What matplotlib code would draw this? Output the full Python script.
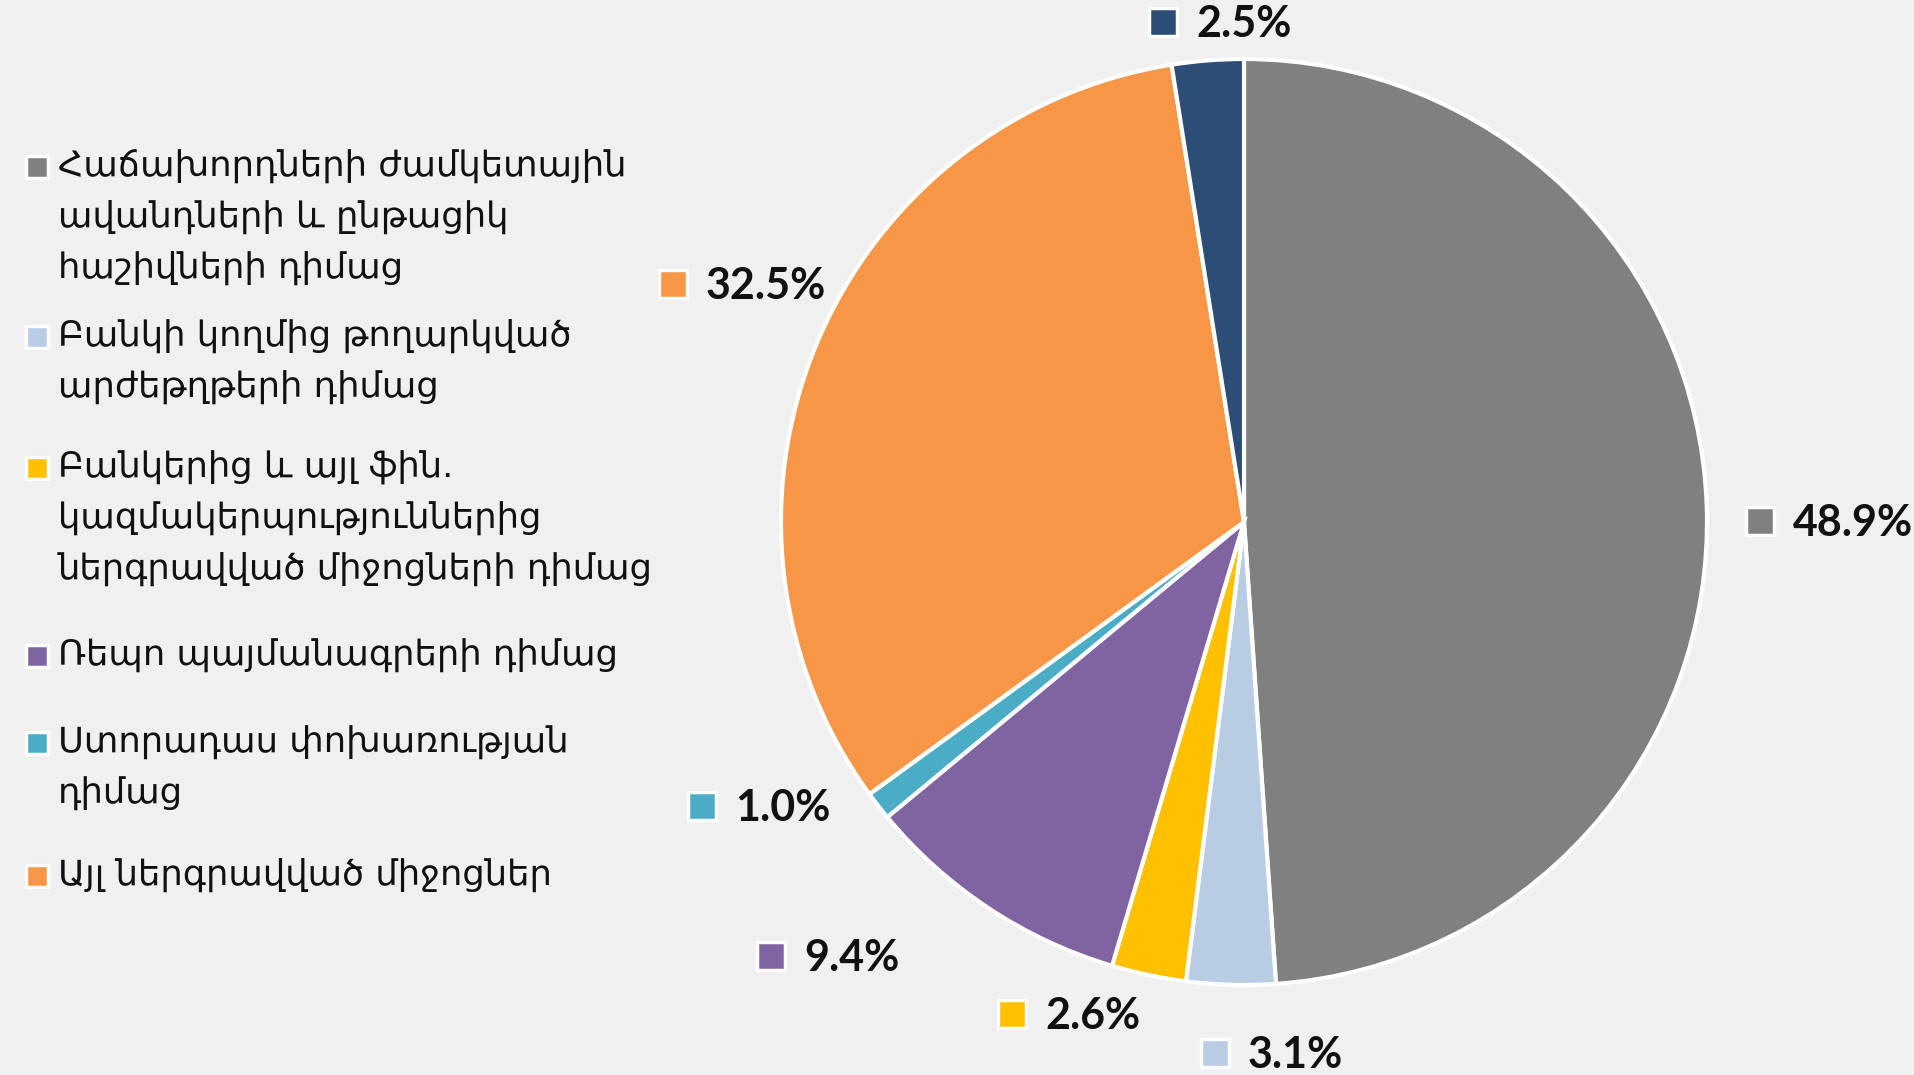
import matplotlib
matplotlib.use("Agg")
import matplotlib.pyplot as plt

# data (clockwise from 12 o'clock)
values = [48.9, 3.1, 2.6, 9.4, 1.0, 32.5, 2.5]
colors = ["#808080", "#B8CCE4", "#FFC000", "#8064A2", "#4BACC6", "#F79646", "#2C4D75"]
pct_labels = ["48.9%", "3.1%", "2.6%", "9.4%", "1.0%", "32.5%", "2.5%"]
legend_labels = [
    "Հաճախորդների ժամկետային\nավանդների և ընթացիկ\nհաշիվների դիմաց",
    "Բանկի կողմից թողարկված\nարժեթղթերի դիմաց",
    "Բանկերից և այլ ֆին.\nկազմակերպություններից\nներգրավված միջոցների դիմաց",
    "Ռեպո պայմանագրերի դիմաց",
    "Ստորադաս փոխառության\nդիմաց",
    "Այլ ներգրավված միջոցներ",
]

bg = "#EFF0EF"
W, H = 1914, 1075
fig = plt.figure(figsize=(W / 100, H / 100), dpi=100, facecolor=bg)

# pie axes: centre (1244, 522) px, radius 463 px
cx, cy, R = 1244, 522, 463
ax = fig.add_axes([(cx - R) / W, (H - cy - R) / H, 2 * R / W, 2 * R / H])
ax.set_facecolor(bg)
ax.pie(values, colors=colors, startangle=90, counterclock=False,
       wedgeprops=dict(edgecolor="white", linewidth=3))
ax.set_xlim(-1, 1)
ax.set_ylim(-1, 1)
ax.set_aspect("equal")
ax.axis("off")

# overlay in pixel coords for labels and legend
ov = fig.add_axes([0, 0, 1, 1], facecolor="none")
ov.set_xlim(0, W)
ov.set_ylim(H, 0)
ov.axis("off")

# percentage labels (marker position in pixels)
lab_pos = [(1760, 521), (1215, 1053), (1012, 1014), (771, 956),
           (702, 806), (673, 284), (1163, 22)]
for (x, y), c, t in zip(lab_pos, colors, pct_labels):
    ov.scatter([x], [y], marker="s", s=380, color=c, edgecolors="white",
               linewidths=2.5, zorder=3, clip_on=False)
    ov.text(x + 33, y + 2, t, fontsize=31, fontweight="bold", family="Lato",
            color="#111111", va="center", ha="left", clip_on=False)

# legend
leg_y = [167, 337, 468, 656, 743, 876]
pitch = 51
for y0, c, lab in zip(leg_y, colors[:6], legend_labels):
    ov.scatter([37], [y0], marker="s", s=260, color=c, edgecolors="white",
               linewidths=2.5, zorder=3)
    for i, line in enumerate(lab.split("\n")):
        ov.text(58, y0 + i * pitch, line, fontsize=25.5, family="DejaVu Sans",
                color="#111111", va="center", ha="left")

fig.savefig("out.png", dpi=100, facecolor=bg)
